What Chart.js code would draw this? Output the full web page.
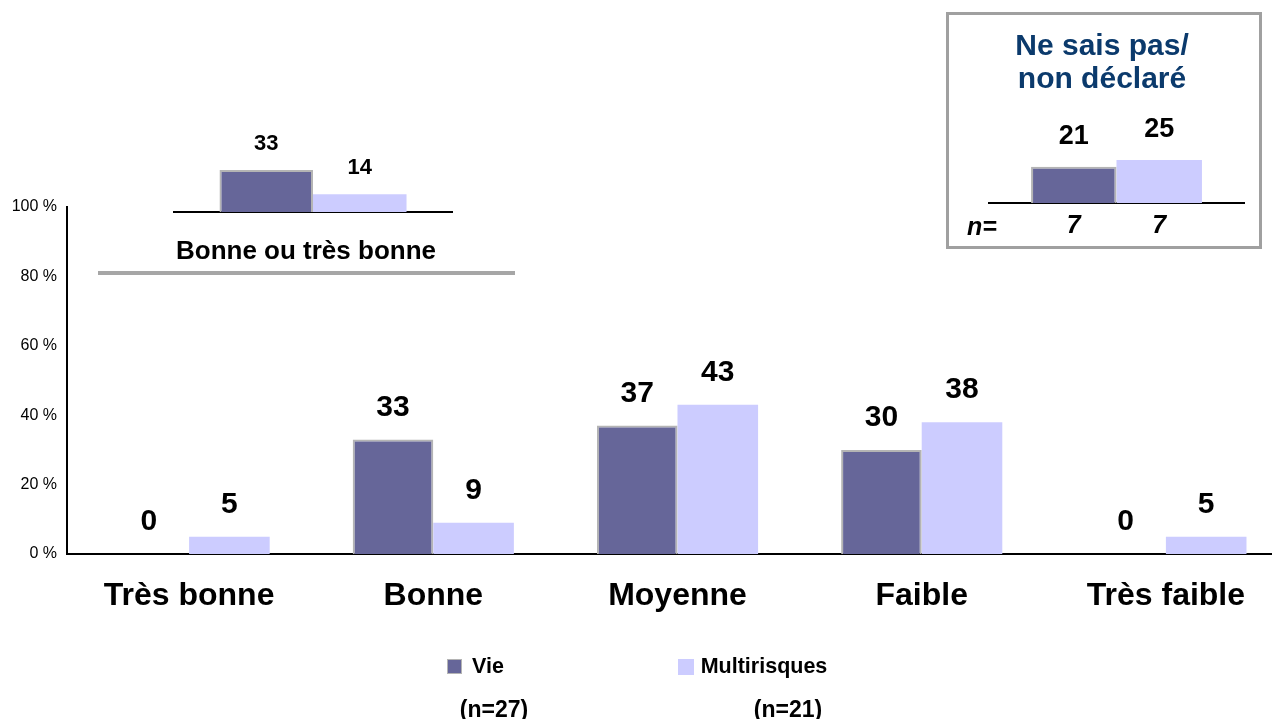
<!DOCTYPE html>
<html>
<head>
<meta charset="utf-8">
<script src="https://cdn.jsdelivr.net/npm/chart.js@4.4.1/dist/chart.umd.min.js"></script>
<style>
    html, body { margin: 0; padding: 0; background: #fff; overflow: hidden; width: 1272px; height: 719px; }
    body { position: relative; font-family: "Liberation Sans", Arial, sans-serif; }
    canvas { position: absolute; }
    .txt { position: absolute; font-weight: bold; white-space: nowrap; transform: translate(-50%, -50%); line-height: 1; }
    .sq { position: absolute; width: 14px; height: 14px; }
</style>
</head>
<body>
<canvas id="main" width="1288" height="719" style="left:0;top:0;width:1288px;height:719px"></canvas>

<!-- encart "Bonne ou très bonne" -->
<canvas id="bonne" width="280" height="114" style="left:173px;top:100px;width:280px;height:114px"></canvas>
<div id="bonne-label" class="txt" style="left:306px;top:250px;font-size:26px"></div>
<div style="position:absolute;left:98px;top:271px;width:417px;height:4px;background:#a6a6a6"></div>

<!-- encart "Ne sais pas / non déclaré" -->
<div style="position:absolute;left:946px;top:12px;width:310px;height:231px;border:3px solid #a0a0a0"></div>
<div id="nsp-title1" class="txt" style="left:1102px;top:45px;font-size:30px;color:#0b3a6c"></div>
<div id="nsp-title2" class="txt" style="left:1102px;top:78px;font-size:30px;color:#0b3a6c"></div>
<canvas id="nsp" width="257" height="135" style="left:988px;top:110px;width:257px;height:135px"></canvas>
<div class="txt" style="left:982px;top:226px;font-size:25px;font-style:italic">n=</div>

<!-- légende -->
<div class="sq" style="left:447px;top:659px;background:#666699;border:1px solid #b4b4b4;width:13px;height:13px"></div>
<div id="leg1" class="txt" style="left:488px;top:667px;font-size:21.5px"></div>
<div class="sq" style="left:678px;top:659px;background:#ccccff;width:16px;height:16px"></div>
<div id="leg2" class="txt" style="left:764px;top:667px;font-size:21.5px"></div>
<div id="legn1" class="txt" style="left:494px;top:709px;font-size:23px"></div>
<div id="legn2" class="txt" style="left:788px;top:709px;font-size:23px"></div>

<script>
// Données du graphique principal
const categories = ['Très bonne', 'Bonne', 'Moyenne', 'Faible', 'Très faible'];
const vie = [0, 33, 37, 30, 0];
const multirisques = [5, 9, 43, 38, 5];
const yTicks = [0, 20, 40, 60, 80, 100];

// Encart "Bonne ou très bonne"
const bonneLabel = 'Bonne ou très bonne';
const bonneVie = [33];
const bonneMulti = [14];

// Encart "Ne sais pas / non déclaré"
const nspTitle = ['Ne sais pas/', 'non déclaré'];
const nspVie = [21];
const nspMulti = [25];
const nspN = [7, 7];

// Légende
const seriesNames = ['Vie', 'Multirisques'];
const seriesN = ['(n=27)', '(n=21)'];

const colVie = '#666699';
const colMulti = '#ccccff';
const colBorder = '#b4b4b4';
const FONT = '"Liberation Sans", Arial, sans-serif';

Chart.defaults.font.family = FONT;
Chart.defaults.color = '#000';

document.getElementById('bonne-label').textContent = bonneLabel;
document.getElementById('nsp-title1').textContent = nspTitle[0];
document.getElementById('nsp-title2').textContent = nspTitle[1];
document.getElementById('leg1').textContent = seriesNames[0];
document.getElementById('leg2').textContent = seriesNames[1];
document.getElementById('legn1').textContent = seriesN[0];
document.getElementById('legn2').textContent = seriesN[1];

function drawText(ctx, text, x, y, font) {
    ctx.save();
    ctx.font = font;
    ctx.fillStyle = '#000';
    ctx.textAlign = 'center';
    ctx.textBaseline = 'middle';
    ctx.fillText(text, x, y);
    ctx.restore();
}

// Étiquettes de valeur au-dessus des barres
function valueLabels(font, offset) {
    return {
        id: 'valueLabels',
        afterDatasetsDraw(chart) {
            chart.data.datasets.forEach((ds, i) => {
                chart.getDatasetMeta(i).data.forEach((bar, j) => {
                    drawText(chart.ctx, String(ds.data[j]), bar.x, bar.y - offset, font);
                });
            });
        }
    };
}

function barDataset(label, data, color, withBorder) {
    return {
        label: label,
        data: data,
        backgroundColor: color,
        borderColor: colBorder,
        borderWidth: withBorder ? (c => c.raw > 0 ? 2 : 0) : 0,
        borderSkipped: 'bottom',
        barPercentage: 1
    };
}

const hiddenX = (h) => ({
    ticks: { display: false },
    grid: { display: false },
    border: { color: '#000', width: 2 },
    afterFit: s => { s.height = h; }
});

// Graphique principal
new Chart(document.getElementById('main'), {
    type: 'bar',
    data: {
        labels: categories,
        datasets: [
            barDataset(seriesNames[0], vie, colVie, true),
            barDataset(seriesNames[1], multirisques, colMulti, false)
        ]
    },
    options: {
        responsive: false,
        animation: false,
        datasets: { bar: { categoryPercentage: 0.66 } },
        layout: { padding: { top: 207, left: 0, right: 0, bottom: 0 } },
        plugins: { legend: { display: false }, tooltip: { enabled: false } },
        scales: {
            x: hiddenX(165),
            y: {
                min: 0,
                max: 100,
                afterBuildTicks: s => { s.ticks = yTicks.map(v => ({ value: v })); },
                ticks: { callback: v => v + ' %', font: { size: 16 }, padding: 2 },
                grid: { display: false },
                border: { color: '#000', width: 2 },
                afterFit: s => { s.width = 67; }
            }
        }
    },
    plugins: [
        valueLabels('bold 30px ' + FONT, 32),
        {
            id: 'catLabels',
            afterDraw(chart) {
                const x = chart.scales.x;
                categories.forEach((c, i) => {
                    drawText(chart.ctx, c, x.getPixelForValue(i), 596, 'bold 32px ' + FONT);
                });
            }
        }
    ]
});

// Encart "Bonne ou très bonne"
new Chart(document.getElementById('bonne'), {
    type: 'bar',
    data: {
        labels: [bonneLabel],
        datasets: [
            barDataset(seriesNames[0], bonneVie, colVie, true),
            barDataset(seriesNames[1], bonneMulti, colMulti, false)
        ]
    },
    options: {
        responsive: false,
        animation: false,
        datasets: { bar: { categoryPercentage: 0.668 } },
        layout: { padding: 0 },
        plugins: { legend: { display: false }, tooltip: { enabled: false } },
        scales: {
            x: hiddenX(2),
            y: { display: false, min: 0, max: 88 }
        }
    },
    plugins: [valueLabels('bold 22px ' + FONT, 26)]
});

// Encart "Ne sais pas / non déclaré"
new Chart(document.getElementById('nsp'), {
    type: 'bar',
    data: {
        labels: [''],
        datasets: [
            barDataset(seriesNames[0], nspVie, colVie, true),
            barDataset(seriesNames[1], nspMulti, colMulti, false)
        ]
    },
    options: {
        responsive: false,
        animation: false,
        datasets: { bar: { categoryPercentage: 0.665 } },
        layout: { padding: 0 },
        plugins: { legend: { display: false }, tooltip: { enabled: false } },
        scales: {
            x: hiddenX(42),
            y: { display: false, min: 0, max: 54 }
        }
    },
    plugins: [
        valueLabels('bold 27px ' + FONT, 30),
        {
            id: 'nLabels',
            afterDatasetsDraw(chart) {
                const bottom = chart.chartArea.bottom;
                chart.data.datasets.forEach((ds, i) => {
                    const bar = chart.getDatasetMeta(i).data[0];
                    drawText(chart.ctx, String(nspN[i]), bar.x, bottom + 23, 'italic bold 25px ' + FONT);
                });
            }
        }
    ]
});
</script>
</body>
</html>
